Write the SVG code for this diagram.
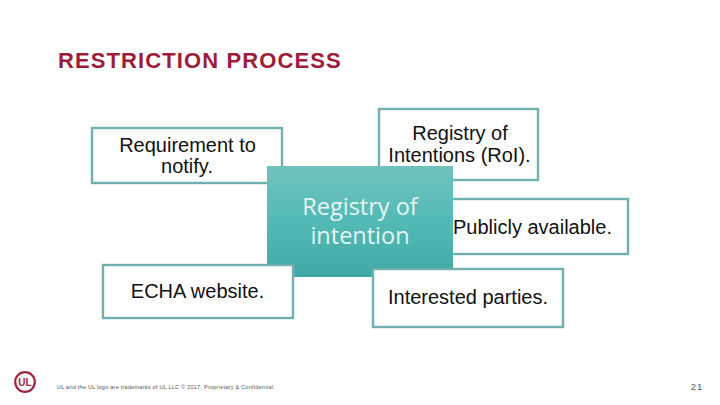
<svg xmlns="http://www.w3.org/2000/svg" width="720" height="405" viewBox="0 0 720 405">
<style>
text{font-family:"Liberation Sans",Arial,sans-serif;fill:#000;text-anchor:middle}
.box{fill:#fff;stroke:#6fb0ae;stroke-width:2.4}
.t{font-size:20px;fill:#111}
.c{font-family:"Open Sans",sans-serif;font-size:23.500px;fill:#e6f5f4}
</style>
<defs><linearGradient id="g" x1="0" y1="0" x2="0" y2="1"><stop offset="0" stop-color="#70c2bd"/><stop offset="0.5" stop-color="#53bab5"/><stop offset="1" stop-color="#42a8a5"/></linearGradient></defs>
<rect width="720" height="405" fill="#fff"/>
<text x="58" y="68" style="text-anchor:start;font-size:22px;font-weight:bold;letter-spacing:1.1px;fill:#9c1c3a">RESTRICTION PROCESS</text>
<g id="n-requirement"><rect class="box" x="92" y="128" width="190" height="55"/>
<text class="t" x="187.500" y="152">Requirement to</text><text class="t" x="187" y="173">notify.</text></g>
<g id="n-roi"><rect class="box" x="379" y="109" width="159" height="71"/>
<text class="t" x="460" y="140">Registry of</text><text class="t" x="459.500" y="162">Intentions (RoI).</text></g>
<g id="n-public"><rect class="box" x="440" y="199" width="188" height="55"/>
<text class="t" x="532.500" y="234">Publicly available.</text></g>
<g id="n-center"><rect x="267" y="166" width="186" height="111" fill="url(#g)"/>
<text class="c" x="360" y="215">Registry of</text>
<text class="c" x="360" y="244">intention</text></g>
<g id="n-echa"><rect class="box" x="103" y="265" width="190" height="53"/>
<text class="t" x="197.500" y="298">ECHA website.</text></g>
<g id="n-interested"><rect class="box" x="373" y="269" width="190" height="58"/>
<text class="t" x="468" y="304">Interested parties.</text></g>
<g id="connectors"/>
<g fill="none" stroke="#a3243f" stroke-width="2.200"><circle cx="25" cy="382" r="9.800"/></g>
<text x="25" y="386" style="font-size:10px;font-weight:bold;fill:#a3243f">UL</text>
<text x="57" y="389" style="text-anchor:start;font-size:5.500px;letter-spacing:.25px;fill:#555">UL and the UL logo are trademarks of UL LLC © 2017. Proprietary &amp; Confidential.</text>
<text x="697" y="390" style="font-size:9.500px;letter-spacing:1px;fill:#555">21</text>
</svg>
